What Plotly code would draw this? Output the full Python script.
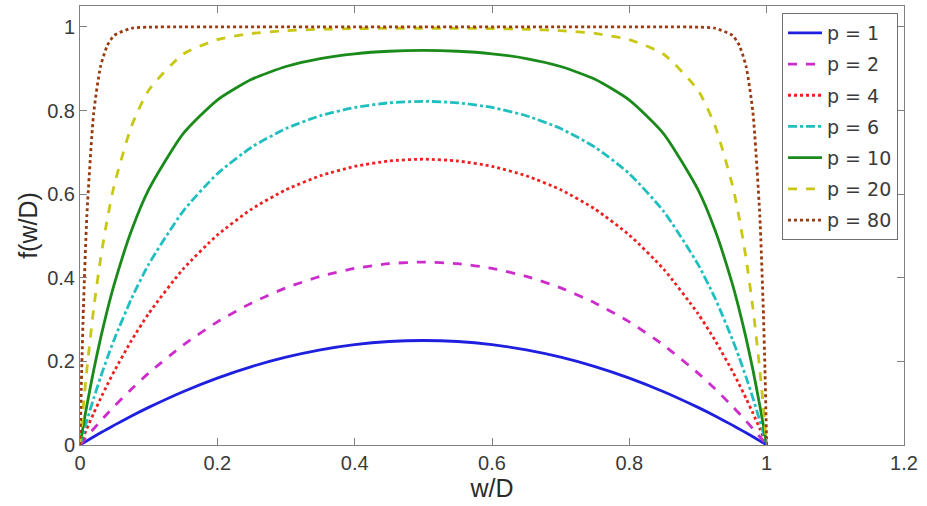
import plotly.graph_objects as go

x_wd = [0, 0.0025, 0.005, 0.01, 0.02, 0.03, 0.04, 0.05, 0.075, 0.1, 0.15, 0.2, 0.25, 0.3, 0.35, 0.4, 0.45,
        0.5,
        0.55, 0.6, 0.65, 0.7, 0.75, 0.8, 0.85, 0.9, 0.925, 0.95, 0.96, 0.97, 0.98, 0.99, 0.995, 0.9975, 1.0]

f_p1 = [0, 0.0025, 0.0050, 0.0099, 0.0196, 0.0291, 0.0384, 0.0475, 0.0694, 0.0900, 0.1275, 0.1600, 0.1875,
        0.2100, 0.2275, 0.2400, 0.2475, 0.2500,
        0.2475, 0.2400, 0.2275, 0.2100, 0.1875, 0.1600, 0.1275, 0.0900, 0.0694, 0.0475, 0.0384, 0.0291,
        0.0196, 0.0099, 0.0050, 0.0025, 0]
f_p2 = [0, 0.0050, 0.0099, 0.0197, 0.0388, 0.0574, 0.0753, 0.0927, 0.1339, 0.1719, 0.2387, 0.2944, 0.3398,
        0.3759, 0.4032, 0.4224, 0.4337, 0.4375,
        0.4337, 0.4224, 0.4032, 0.3759, 0.3398, 0.2944, 0.2387, 0.1719, 0.1339, 0.0927, 0.0753, 0.0574,
        0.0388, 0.0197, 0.0099, 0.0050, 0]
f_p4 = [0, 0.0099, 0.0198, 0.0390, 0.0761, 0.1114, 0.1450, 0.1769, 0.2499, 0.3143, 0.4205, 0.5021, 0.5642,
        0.6105, 0.6439, 0.6664, 0.6793, 0.6836,
        0.6793, 0.6664, 0.6439, 0.6105, 0.5642, 0.5021, 0.4205, 0.3143, 0.2499, 0.1769, 0.1450, 0.1114,
        0.0761, 0.0390, 0.0198, 0.0099, 0]
f_p6 = [0, 0.0149, 0.0295, 0.0580, 0.1120, 0.1624, 0.2094, 0.2532, 0.3504, 0.4321, 0.5588, 0.6487, 0.7123,
        0.7569, 0.7875, 0.8073, 0.8184, 0.8220,
        0.8184, 0.8073, 0.7875, 0.7569, 0.7123, 0.6487, 0.5588, 0.4321, 0.3504, 0.2532, 0.2094, 0.1624,
        0.1120, 0.0580, 0.0295, 0.0149, 0]
f_p10 = [0, 0.0247, 0.0487, 0.0947, 0.1796, 0.2557, 0.3240, 0.3853, 0.5128, 0.6106, 0.7443, 0.8251, 0.8747,
         0.9053, 0.9243, 0.9357, 0.9418, 0.9437,
         0.9418, 0.9357, 0.9243, 0.9053, 0.8747, 0.8251, 0.7443, 0.6106, 0.5128, 0.3853, 0.3240, 0.2557,
         0.1796, 0.0947, 0.0487, 0.0247, 0]
f_p20 = [0, 0.0487, 0.0949, 0.1804, 0.3269, 0.4460, 0.5430, 0.6222, 0.7626, 0.8484, 0.9346, 0.9694, 0.9843,
         0.9910, 0.9943, 0.9959, 0.9966, 0.9968,
         0.9966, 0.9959, 0.9943, 0.9910, 0.9843, 0.9694, 0.9346, 0.8484, 0.7626, 0.6222, 0.5430, 0.4460,
         0.3269, 0.1804, 0.0949, 0.0487, 0]
f_p80 = [0, 0.1811, 0.3290, 0.5489, 0.7948, 0.9058, 0.9564, 0.9796, 0.9968, 0.9995, 1.0, 1.0, 1.0,
         1.0, 1.0, 1.0, 1.0, 1.0,
         1.0, 1.0, 1.0, 1.0, 1.0, 1.0, 1.0, 0.9995, 0.9968, 0.9796, 0.9564, 0.9058,
         0.7948, 0.5489, 0.3290, 0.1811, 0]

series_names = ["p = 1", "p = 2", "p = 4", "p = 6", "p = 10", "p = 20", "p = 80"]
series_vals = [f_p1, f_p2, f_p4, f_p6, f_p10, f_p20, f_p80]
series_colors = ["#1f1fe0", "#cc2ccc", "#ee2020", "#20bfbf", "#1a8a1a", "#c8c814", "#9a3a10"]
series_dash = ["solid", "dash", "dot", "dashdot", "solid", "dash", "dot"]

x_ticks = [0, 0.2, 0.4, 0.6, 0.8, 1, 1.2]
x_tick_text = ["0", "0.2", "0.4", "0.6", "0.8", "1", "1.2"]
y_ticks = [0, 0.2, 0.4, 0.6, 0.8, 1]
y_tick_text = ["0", "0.2", "0.4", "0.6", "0.8", "1"]

fig = go.Figure()
for i, (name, vals, col, dash) in enumerate(zip(series_names, series_vals, series_colors, series_dash)):
    fig.add_trace(go.Scatter(
        x=x_wd, y=vals, mode="lines", name=name, legendgroup=name,
        line=dict(color=col, width=2.8, dash=dash, shape="spline", smoothing=0.6),
    ))

FAM = "Liberation Sans, Arial, sans-serif"
axis_font = dict(family=FAM, size=20, color="#3a3a3a")
fig.update_layout(
    width=927, height=506,
    margin=dict(l=80, r=23, t=6, b=61),
    paper_bgcolor="white", plot_bgcolor="white",
    showlegend=True,
    legend=dict(
        x=0.9927, y=0.984, xanchor="right", yanchor="top",
        bordercolor="#707070", borderwidth=1, bgcolor="white",
        font=dict(family="DejaVu Sans, sans-serif", size=19, color="#3a3a3a"),
        tracegroupgap=3.5, itemwidth=34,
    ),
    xaxis=dict(
        range=[0, 1.2], tickvals=x_ticks, ticktext=x_tick_text,
        showgrid=False, zeroline=False, showline=True, linecolor="#808080", linewidth=1,
        mirror="ticks", ticks="inside", ticklen=7, tickcolor="#808080",
        tickfont=axis_font, automargin=False,
        title=dict(text="w/D", font=dict(family=FAM, size=25, color="#2a2a2a"), standoff=2),
    ),
    yaxis=dict(
        range=[0, 1.05], tickvals=y_ticks, ticktext=y_tick_text,
        showgrid=False, zeroline=False, showline=True, linecolor="#808080", linewidth=1,
        mirror="ticks", ticks="inside", ticklen=7, tickcolor="#808080",
        tickfont=axis_font, automargin=False,
        title=dict(text="f(w/D)", font=dict(family=FAM, size=25, color="#2a2a2a"), standoff=2),
    ),
)

fig.write_html("out.html", config={"displayModeBar": False},
               post_script="document.body.style.margin='0px';")
